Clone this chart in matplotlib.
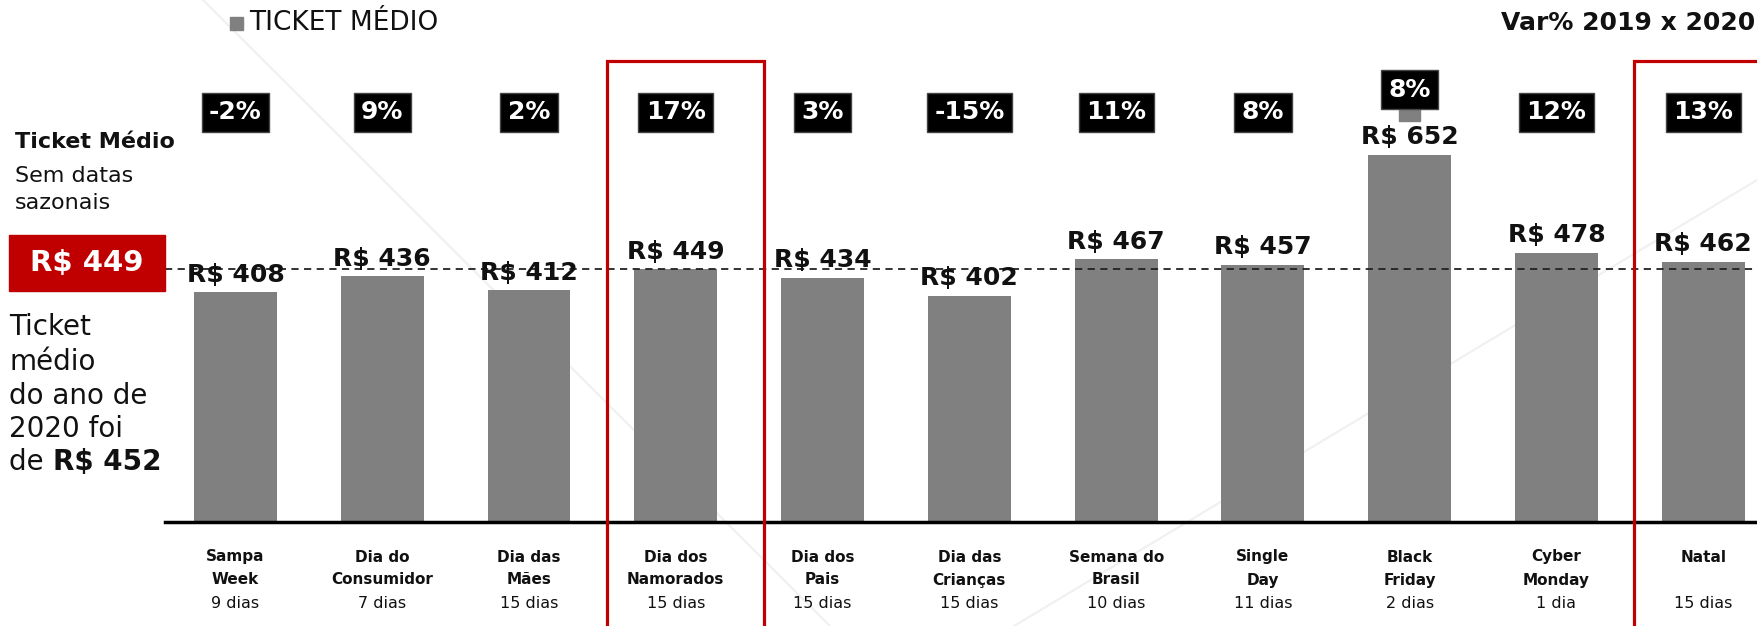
import matplotlib
matplotlib.use("Agg")
import matplotlib.pyplot as plt
from matplotlib.patches import Rectangle
from matplotlib.lines import Line2D
from matplotlib.transforms import blended_transform_factory

plt.rcParams['font.family'] = ['DejaVu Sans']

# data
categories = ["Sampa\nWeek", "Dia do\nConsumidor", "Dia das\nMães", "Dia dos\nNamorados",
              "Dia dos\nPais", "Dia das\nCrianças", "Semana do\nBrasil", "Single\nDay",
              "Black\nFriday", "Cyber\nMonday", "Natal\n"]
days = ["9 dias", "7 dias", "15 dias", "15 dias", "15 dias", "15 dias", "10 dias",
        "11 dias", "2 dias", "1 dia", "15 dias"]
ticket = [408, 436, 412, 449, 434, 402, 467, 457, 652, 478, 462]
var_pct = [-2, 9, 2, 17, 3, -15, 11, 8, 8, 12, 13]
highlight = ["Dia dos\nNamorados", "Natal\n"]
avg_no_seasonal = 449
avg_year = 452

W, H = 1757, 626
BAR_GRAY = "#808080"
RED = "#c00000"
TXT = "#111111"


def fx(x):
    return x / W


def fy(y):
    return 1 - y / H


fig = plt.figure(figsize=(W / 100, H / 100), dpi=100)
fig.patch.set_facecolor("white")

# faint decorative diagonals in the background
fig.add_artist(Line2D([fx(203), fx(830)], [fy(0), fy(626)], color="#f0f0f0", lw=1.5, zorder=-1))
fig.add_artist(Line2D([fx(1757), fx(1014)], [fy(180), fy(626)], color="#f0f0f0", lw=1.5, zorder=-1))

# main bar axes
n = len(categories)
ax = fig.add_axes([fx(165), fy(522), 1 - fx(165), 522 / H])
ax.set_facecolor("none")
x = list(range(n))
ax.bar(x, ticket, width=0.565, color=BAR_GRAY, zorder=2)
ax.set_xlim(-0.48, n - 0.634)
ax.set_ylim(0, 927)

for s in ["top", "left", "right"]:
    ax.spines[s].set_visible(False)
ax.spines["bottom"].set_linewidth(2.5)
ax.spines["bottom"].set_color("black")
ax.set_xticks([])
ax.set_yticks([])

# average line (no seasonal dates)
ax.axhline(avg_no_seasonal, xmin=0, xmax=1, color="#222222", lw=1.3,
           dashes=(4, 3), zorder=3)

# value labels + variation boxes
for i, v in enumerate(ticket):
    ax.annotate(f"R$ {v}", (i, v), xytext=(0, 12.5), textcoords="offset points",
                ha="center", va="center", fontsize=18, fontweight="bold",
                color=TXT, zorder=5)
    box_y = 728
    if v > 600:
        box_y = 768
        ax.add_patch(Rectangle((i - 0.07, 712), 0.14, 20, color=BAR_GRAY, zorder=2))
    ax.text(i, box_y, f"{var_pct[i]}%", ha="center", va="center", fontsize=18,
            fontweight="bold", color="white", zorder=6,
            bbox=dict(boxstyle="square,pad=0.3", fc="black", ec="#444444", lw=1))

# highlight boxes in red
for name in highlight:
    i = categories.index(name)
    ax.add_patch(Rectangle((i - 0.47, -400), 1.07, 818 + 400, fill=False,
                           ec=RED, lw=2.3, clip_on=False, zorder=4))

# category labels under the axis
trans = blended_transform_factory(ax.transData, fig.transFigure)
for i, name in enumerate(categories):
    l1, l2 = name.split("\n")
    ax.text(i, fy(557), l1, transform=trans, ha="center", va="center",
            fontsize=11, fontweight="bold", color=TXT)
    ax.text(i, fy(580), l2, transform=trans, ha="center", va="center",
            fontsize=11, fontweight="bold", color=TXT)
    ax.text(i, fy(603), days[i], transform=trans, ha="center", va="center",
            fontsize=11.5, color=TXT)

# legend and header
fig.patches.append(Rectangle((fx(230), fy(30)), fx(13), 13 / H, color=BAR_GRAY,
                             transform=fig.transFigure, figure=fig))
fig.text(fx(249), fy(23), "TICKET MÉDIO", fontsize=19, color=TXT, va="center", ha="left")
fig.text(fx(1755), fy(23), "Var% 2019 x 2020", fontsize=18, fontweight="bold",
         color=TXT, va="center", ha="right")

# left side notes
fig.text(fx(15), fy(142), "Ticket Médio", fontsize=16, fontweight="bold", color=TXT, va="center")
fig.text(fx(15), fy(176), "Sem datas", fontsize=16, color=TXT, va="center")
fig.text(fx(15), fy(203), "sazonais", fontsize=16, color=TXT, va="center")

fig.patches.append(Rectangle((fx(9), fy(291)), fx(156), 56 / H, color=RED,
                             transform=fig.transFigure, figure=fig))
fig.text(fx(87), fy(263), f"R$ {avg_no_seasonal}", fontsize=21, fontweight="bold",
         color="white", ha="center", va="center")

lines = ["Ticket", "médio", "do ano de", "2020 foi"]
ys = [327, 362, 396, 429]
for t, yy in zip(lines, ys):
    fig.text(fx(9), fy(yy), t, fontsize=20, color=TXT, va="center")
fig.text(fx(9), fy(462), "de ", fontsize=20, color=TXT, va="center")
fig.text(fx(53), fy(462), f"R$ {avg_year}", fontsize=20, fontweight="bold", color=TXT, va="center")

fig.savefig("out.png", dpi=100)
